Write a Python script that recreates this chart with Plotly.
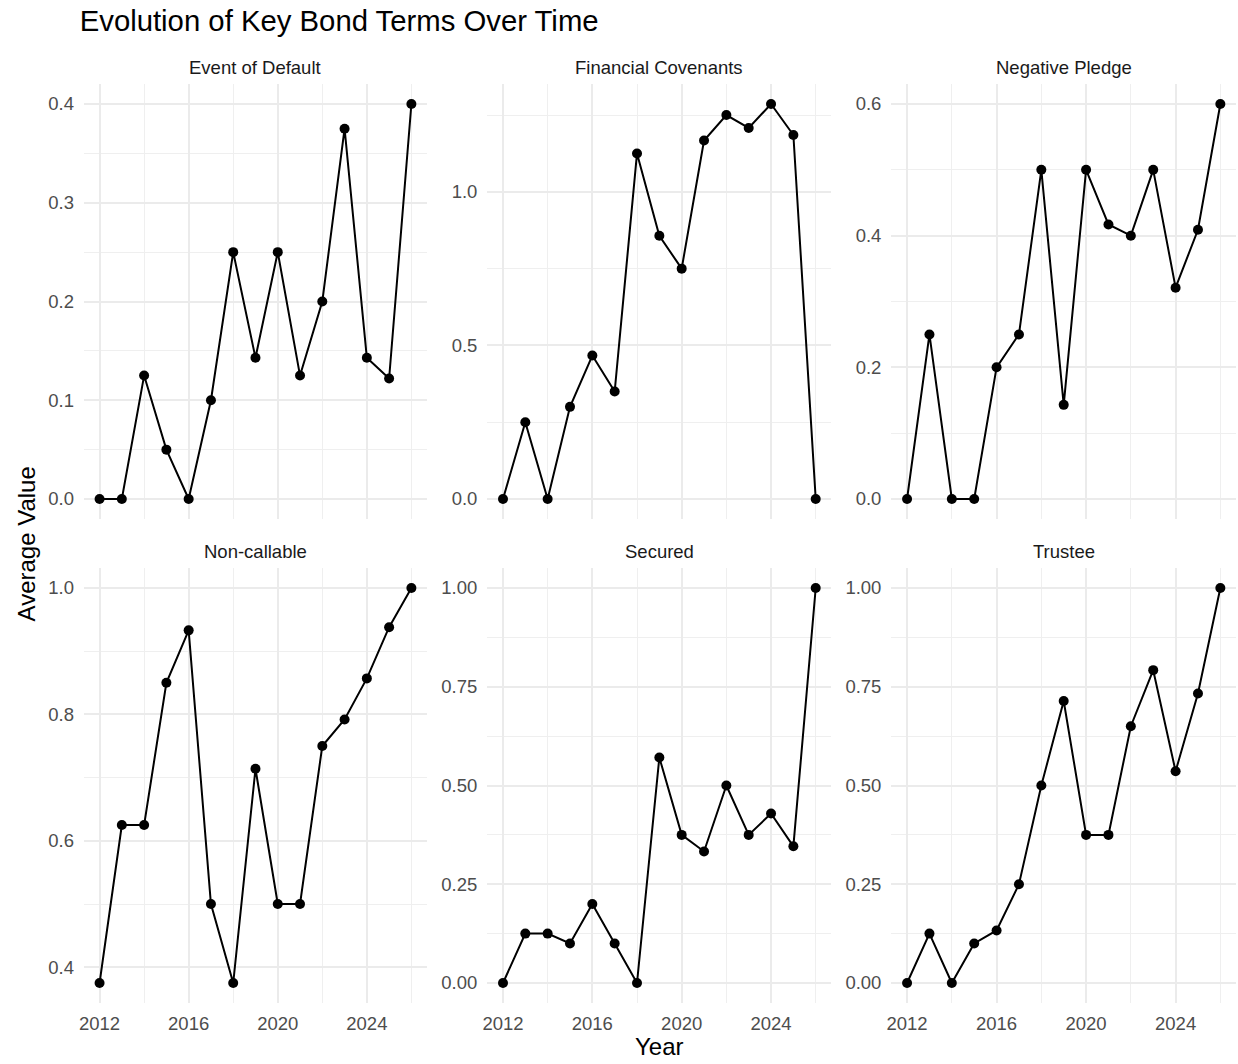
import plotly.graph_objects as go

# ---------------- data ----------------
years = [2012, 2013, 2014, 2015, 2016, 2017, 2018, 2019, 2020, 2021, 2022, 2023, 2024, 2025, 2026]

event_of_default = [0.0, 0.0, 0.125, 0.05, 0.0, 0.1, 0.25, 0.143, 0.25, 0.125, 0.2, 0.375, 0.143, 0.122, 0.4]
financial_covenants = [0.0, 0.25, 0.0, 0.30, 0.467, 0.35, 1.125, 0.857, 0.75, 1.167, 1.25, 1.208, 1.286, 1.185, 0.0]
negative_pledge = [0.0, 0.25, 0.0, 0.0, 0.2, 0.25, 0.5, 0.143, 0.5, 0.417, 0.4, 0.5, 0.321, 0.409, 0.6]
non_callable = [0.375, 0.625, 0.625, 0.85, 0.933, 0.5, 0.375, 0.714, 0.5, 0.5, 0.75, 0.792, 0.857, 0.938, 1.0]
secured = [0.0, 0.125, 0.125, 0.1, 0.2, 0.1, 0.0, 0.571, 0.375, 0.333, 0.5, 0.375, 0.429, 0.346, 1.0]
trustee = [0.0, 0.125, 0.0, 0.1, 0.133, 0.25, 0.5, 0.714, 0.375, 0.375, 0.65, 0.792, 0.536, 0.733, 1.0]

panel_names = ["Event of Default", "Financial Covenants", "Negative Pledge",
               "Non-callable", "Secured", "Trustee"]
panel_values = [event_of_default, financial_covenants, negative_pledge,
                non_callable, secured, trustee]

x_tickvals = [2012, 2016, 2020, 2024]
x_ticktext = ["2012", "2016", "2020", "2024"]

y_tickvals = [
    [0.0, 0.1, 0.2, 0.3, 0.4],
    [0.0, 0.5, 1.0],
    [0.0, 0.2, 0.4, 0.6],
    [0.4, 0.6, 0.8, 1.0],
    [0.0, 0.25, 0.5, 0.75, 1.0],
    [0.0, 0.25, 0.5, 0.75, 1.0],
]
y_ticktext = [
    ["0.0", "0.1", "0.2", "0.3", "0.4"],
    ["0.0", "0.5", "1.0"],
    ["0.0", "0.2", "0.4", "0.6"],
    ["0.4", "0.6", "0.8", "1.0"],
    ["0.00", "0.25", "0.50", "0.75", "1.00"],
    ["0.00", "0.25", "0.50", "0.75", "1.00"],
]

# ---------------- layout geometry ----------------
W, H = 1238, 1064
col_px = [(79.3, 423.7), (484.3, 829.7), (890.0, 1236.0)]
row_px = [(84.25, 518.75), (568.25, 1002.75)]
strip_y_px = [67, 551]

FONT = "Liberation Sans, Arial, Helvetica, sans-serif"
GRID = "#ebebeb"
MINOR = "#efefef"
TICKC = "#4d4d4d"

fig = go.Figure()
layout = {}
annotations = []

xmin, xmax = min(years), max(years)
xpad = 0.05 * (xmax - xmin)

for i, (name, vals) in enumerate(zip(panel_names, panel_values)):
    r, c = divmod(i, 3)
    k = i + 1
    xa = "x" if k == 1 else f"x{k}"
    ya = "y" if k == 1 else f"y{k}"
    fig.add_trace(go.Scatter(
        x=years, y=vals, mode="lines+markers",
        line=dict(color="black", width=2),
        marker=dict(color="black", size=10),
        xaxis=xa, yaxis=ya, showlegend=False, cliponaxis=False,
    ))
    x0, x1 = col_px[c]
    y0, y1 = row_px[r]
    vmin, vmax = min(vals), max(vals)
    ypad = 0.05 * (vmax - vmin)
    tv = y_tickvals[i]
    ystep = tv[1] - tv[0]
    layout["xaxis" if k == 1 else f"xaxis{k}"] = dict(
        domain=[x0 / W, x1 / W], anchor=ya,
        range=[xmin - xpad, xmax + xpad],
        tickvals=x_tickvals, ticktext=x_ticktext,
        showticklabels=(r == 1), ticks="", ticklabelstandoff=8,
        tickfont=dict(family=FONT, size=18.5, color=TICKC),
        showgrid=True, gridcolor=GRID, gridwidth=2,
        minor=dict(tick0=2012, dtick=2, showgrid=True, gridcolor=MINOR, gridwidth=1.2),
        zeroline=False, showline=False,
    )
    layout["yaxis" if k == 1 else f"yaxis{k}"] = dict(
        domain=[1 - y1 / H, 1 - y0 / H], anchor=xa,
        range=[vmin - ypad, vmax + ypad],
        tickvals=tv, ticktext=y_ticktext[i],
        ticks="", ticklabelstandoff=9,
        tickfont=dict(family=FONT, size=18.5, color=TICKC),
        showgrid=True, gridcolor=GRID, gridwidth=2,
        minor=dict(tick0=tv[0], dtick=ystep / 2, showgrid=True, gridcolor=MINOR, gridwidth=1.2),
        zeroline=False, showline=False,
    )
    annotations.append(dict(
        text=name, xref="paper", yref="paper",
        x=(x0 + x1) / 2 / W, y=1 - strip_y_px[r] / H,
        xanchor="center", yanchor="middle", showarrow=False,
        font=dict(family=FONT, size=18.5, color="#1a1a1a"),
    ))

annotations.append(dict(
    text="Year", xref="paper", yref="paper",
    x=657.5 / W, y=1 - 1046 / H, xanchor="center", yanchor="middle",
    showarrow=False, font=dict(family=FONT, size=24, color="black"),
))
annotations.append(dict(
    text="Average Value", xref="paper", yref="paper",
    x=22 / W, y=1 - 543.5 / H, xanchor="center", yanchor="middle",
    textangle=-90, showarrow=False, font=dict(family=FONT, size=24, color="black"),
))

fig.update_layout(
    **layout,
    width=W, height=H,
    margin=dict(l=0, r=0, t=0, b=0),
    paper_bgcolor="white", plot_bgcolor="white",
    title=dict(text="Evolution of Key Bond Terms Over Time",
               x=75 / W, xanchor="left", xref="paper",
               y=1 - 21 / H, yanchor="middle",
               font=dict(family=FONT, size=29.3, color="black")),
    annotations=annotations,
)

fig.write_html("out.html")
